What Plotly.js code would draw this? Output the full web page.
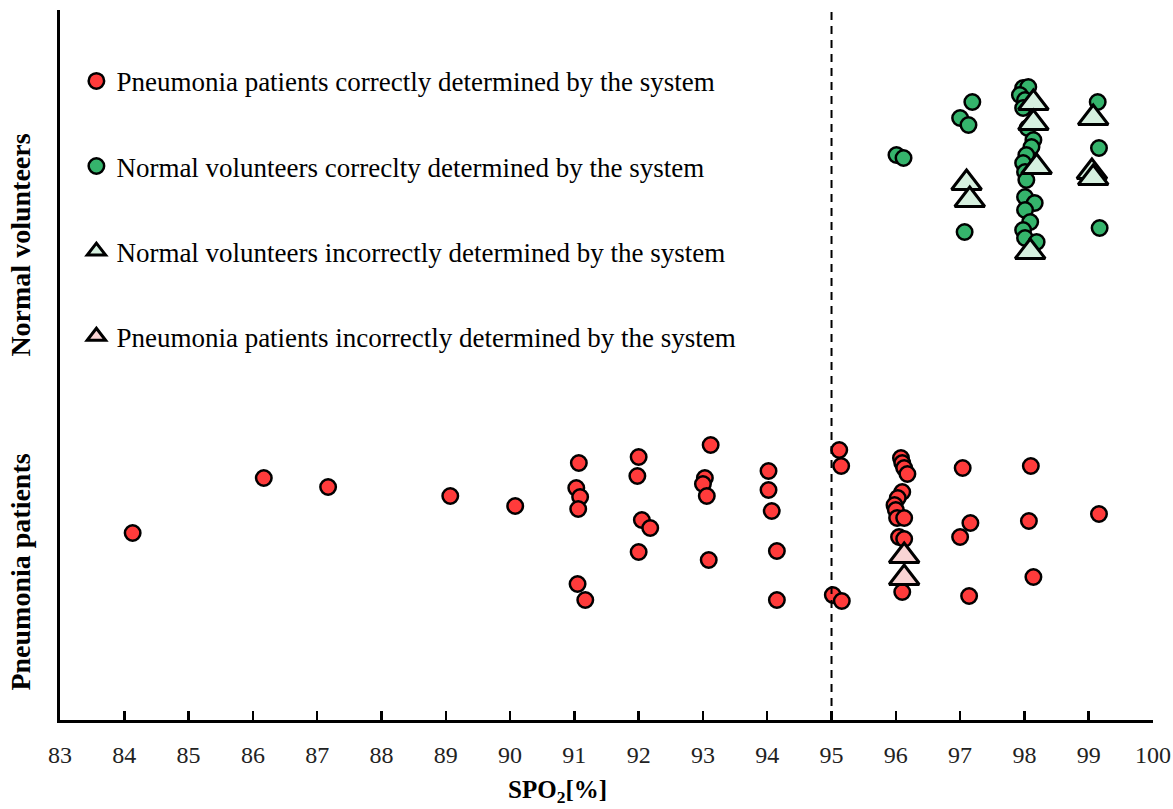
<!DOCTYPE html>
<html>
<head>
<meta charset="utf-8">
<script src="https://cdn.plot.ly/plotly-3.0.1.min.js"></script>
<style>html,body{margin:0;padding:0;background:#fff;}#chart{width:1173px;height:809px;}</style>
</head>
<body>
<div id="chart"></div>
<script>
// SpO2 values (x) and vertical jitter positions (y) for each group
const pneuCorrectX = [84.13, 86.17, 87.17, 89.07, 90.08,
  91.07, 91.03, 91.09, 91.06, 91.05, 91.17,
  92.0, 91.98, 92.05, 92.18, 92.0,
  93.12, 93.03, 93.0, 93.06, 93.09,
  94.02, 94.02, 94.07, 94.15, 94.15,
  95.12, 95.15, 95.02, 95.16,
  96.08, 96.1, 96.13, 96.18, 96.1, 96.03, 95.98, 96.0, 96.02, 96.13, 96.05, 96.13, 96.1,
  97.04, 97.16, 97.0, 97.14,
  98.10, 98.07, 98.14,
  99.16];
const pneuCorrectY = [187, 242, 233, 224, 214,
  257, 232, 223, 211, 136, 120,
  263, 244, 200, 192, 168,
  275, 242, 236, 224, 160,
  249, 230, 209, 169, 120,
  270, 254, 125, 119,
  262, 257, 252, 246, 228, 222, 215, 210, 202, 202, 183, 181, 128,
  252, 197, 183, 124,
  254, 199, 143,
  206];

const normCorrectX = [97.19, 97.0, 97.13, 97.07,
  96.01, 96.12,
  99.14, 99.16, 99.17,
  97.98, 98.06, 97.93, 98.01, 97.98, 98.05, 98.14, 98.11, 98.03, 97.98, 98.01, 98.03,
  98.01, 98.16, 98.01, 98.09, 97.98, 98.01, 98.19];
const normCorrectY = [618, 602, 595, 488,
  565, 562,
  618, 572, 492,
  632, 633, 625, 620, 612, 592, 580, 573, 565, 557, 548, 540,
  523, 517, 510, 498, 490, 482, 478];

const normIncorrectX = [98.14, 98.14, 98.19, 98.09, 97.1, 97.15, 99.07, 99.05, 99.07];
const normIncorrectY = [617, 597, 553, 468, 537, 520, 602, 548, 542];

const pneuIncorrectX = [96.13, 96.13];
const pneuIncorrectY = [164, 142];

const seriesNames = [
  'Pneumonia patients correctly determined by the system',
  'Normal volunteers correclty determined by the system',
  'Normal volunteers incorrectly determined by the system',
  'Pneumonia patients incorrectly determined by the system'
];
const groupLabels = ['Normal volunteers', 'Pneumonia patients'];
const xTicks = [83,84,85,86,87,88,89,90,91,92,93,94,95,96,97,98,99,100];
const xTitle = 'SPO<sub>2</sub>[%]';
const threshold = 95;

const RED = '#ff3b3b', GREEN = '#35b46c';
const serif = 'Liberation Serif, Times New Roman, serif';

const traces = [
  {x: pneuCorrectX, y: pneuCorrectY, name: seriesNames[0], legendgroup: 'a', mode: 'markers', type: 'scatter',
   marker: {symbol: 'circle', size: 15.5, color: RED, line: {color: '#000', width: 2.5}}},
  {x: normCorrectX, y: normCorrectY, name: seriesNames[1], legendgroup: 'b', mode: 'markers', type: 'scatter',
   marker: {symbol: 'circle', size: 15.5, color: GREEN, line: {color: '#000', width: 2.5}}},
  {x: normIncorrectX, y: normIncorrectY, name: seriesNames[2], legendgroup: 'c', mode: 'markers', type: 'scatter',
   marker: {symbol: 'triangle-up', size: 26, color: '#d6f0df', line: {color: '#000', width: 3}}},
  {x: pneuIncorrectX, y: pneuIncorrectY, name: seriesNames[3], legendgroup: 'd', mode: 'markers', type: 'scatter',
   marker: {symbol: 'triangle-up', size: 26, color: '#f9d4d4', line: {color: '#000', width: 3}}},
  // empty helper traces that only host the two group-label axes
  {x: [], y: [], xaxis: 'x2', yaxis: 'y2', type: 'scatter', mode: 'markers', showlegend: false, hoverinfo: 'skip'},
  {x: [], y: [], xaxis: 'x3', yaxis: 'y3', type: 'scatter', mode: 'markers', showlegend: false, hoverinfo: 'skip'}
];

const hiddenX = {domain: [0, 1], visible: false, showgrid: false, zeroline: false};
const labelY = (dom, txt, anchor) => ({domain: dom, anchor: anchor, showline: false, showticklabels: false, ticks: '',
  showgrid: false, zeroline: false,
  title: {text: '<b>' + txt + '</b>', standoff: 20, font: {family: serif, size: 28, color: '#000'}}});

const layout = {
  width: 1173, height: 809,
  margin: {l: 60, r: 20, t: 10, b: 89},
  paper_bgcolor: '#fff', plot_bgcolor: 'rgba(0,0,0,0)',
  font: {family: serif, color: '#000', size: 24},
  showlegend: true,
  legend: {x: 0.015, y: 0.934, xanchor: 'left', yanchor: 'top', bgcolor: 'rgba(0,0,0,0)',
    font: {family: serif, size: 27, color: '#000'}, traceorder: 'grouped', tracegroupgap: 47,
    itemwidth: 30},
  xaxis: {range: [83, 100], tickvals: xTicks, ticktext: xTicks.map(String),
    showline: true, linecolor: '#000', linewidth: 3, ticks: 'inside', ticklen: 9, tickwidth: 2.5, tickcolor: '#000',
    showgrid: false, zeroline: false, ticklabelstandoff: 11,
    tickfont: {family: serif, size: 24, color: '#222'}},
  yaxis: {range: [0, 710], showline: true, linecolor: '#000', linewidth: 3, showticklabels: false, ticks: '',
    showgrid: false, zeroline: false},
  xaxis2: Object.assign({anchor: 'y2'}, hiddenX),
  xaxis3: Object.assign({anchor: 'y3'}, hiddenX),
  yaxis2: labelY([0.569, 0.769], groupLabels[0], 'x2'),
  yaxis3: labelY([0.1085, 0.3085], groupLabels[1], 'x3'),
  shapes: [{type: 'line', xref: 'x', yref: 'paper', x0: threshold, x1: threshold, y0: 0, y1: 1,
    line: {color: '#000', width: 2, dash: '8px,6px'}}],
  annotations: [
    {text: '<b>' + xTitle + '</b>', xref: 'paper', yref: 'paper', x: 0.455, y: -0.1,
     xanchor: 'center', yanchor: 'middle', showarrow: false, font: {family: serif, size: 25, color: '#000'}}
  ]
};

Plotly.newPlot('chart', traces, layout, {displayModeBar: false, staticPlot: true});
</script>
</body>
</html>
